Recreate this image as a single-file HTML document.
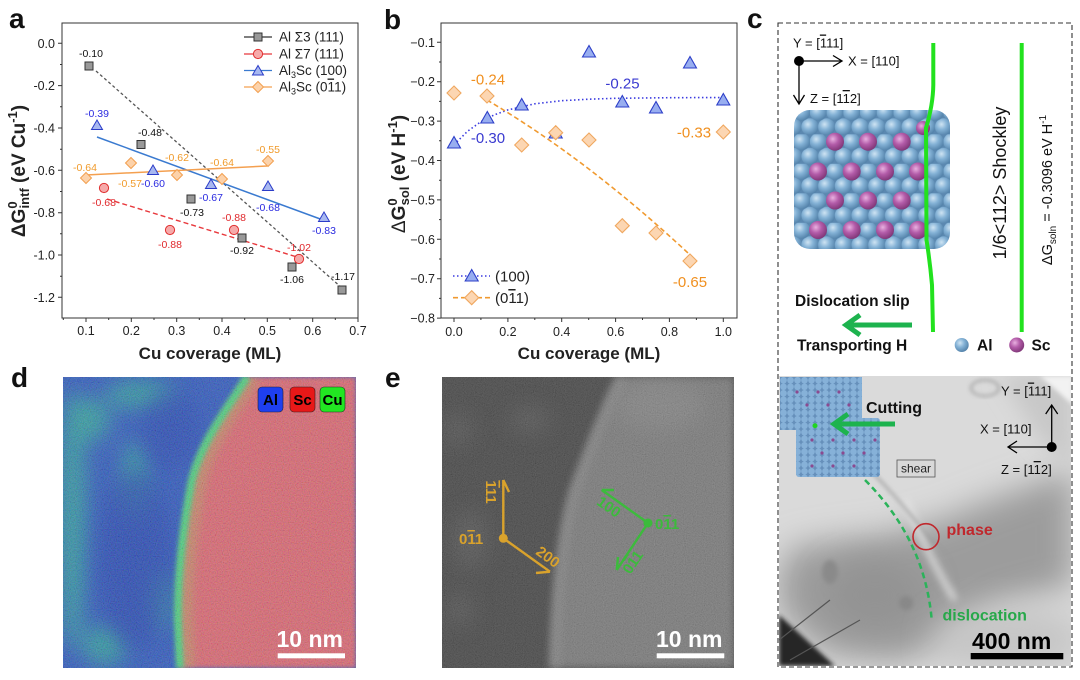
<!DOCTYPE html>
<html><head><meta charset="utf-8">
<style>
html,body{margin:0;padding:0;background:#fff;}
svg{display:block;}
text{font-family:"Liberation Sans",Arial,sans-serif;}
</style></head><body>
<svg width="1080" height="680" viewBox="0 0 1080 680" xmlns="http://www.w3.org/2000/svg">
<defs>
 <radialGradient id="gAl" cx="0.38" cy="0.35" r="0.7">
  <stop offset="0" stop-color="#cfe4f3"/>
  <stop offset="0.45" stop-color="#84b2d6"/>
  <stop offset="1" stop-color="#4f7ea6"/>
 </radialGradient>
 <radialGradient id="gSc" cx="0.38" cy="0.35" r="0.7">
  <stop offset="0" stop-color="#e9b0e0"/>
  <stop offset="0.45" stop-color="#b35ca9"/>
  <stop offset="1" stop-color="#7c3474"/>
 </radialGradient>
 <pattern id="pAtoms" x="826.65" y="134.3" width="16.7" height="29.5" patternUnits="userSpaceOnUse">
  <rect width="16.7" height="29.5" fill="#5b88b0"/>
  <circle cx="0" cy="22.1" r="8.6" fill="url(#gAl)"/>
  <circle cx="16.7" cy="22.1" r="8.6" fill="url(#gAl)"/>
  <circle cx="8.35" cy="7.4" r="8.6" fill="url(#gAl)"/>
 </pattern>
 <pattern id="pSmall" x="780" y="377" width="7" height="6.5" patternUnits="userSpaceOnUse">
  <rect width="7" height="6.5" fill="#6690bb"/>
  <circle cx="3.5" cy="3.25" r="3.3" fill="#86b1d8"/>
 </pattern>
 <clipPath id="clipCluster"><rect x="794" y="110" width="156" height="139" rx="16"/></clipPath>
 <clipPath id="clipD"><rect x="63" y="377" width="293" height="291"/></clipPath>
 <clipPath id="clipE"><rect x="442" y="377" width="292" height="291"/></clipPath>
 <clipPath id="clipT"><rect x="779" y="376" width="292" height="290"/></clipPath>
 <filter id="b2" x="-20%" y="-20%" width="140%" height="140%"><feGaussianBlur stdDeviation="2"/></filter>
 <filter id="b4" x="-20%" y="-20%" width="140%" height="140%"><feGaussianBlur stdDeviation="4"/></filter>
 <filter id="b10" x="-30%" y="-30%" width="160%" height="160%"><feGaussianBlur stdDeviation="10"/></filter>
 <filter id="b18" x="-40%" y="-40%" width="180%" height="180%"><feGaussianBlur stdDeviation="16"/></filter>
 <filter id="nCol" x="0" y="0" width="100%" height="100%">
  <feTurbulence type="fractalNoise" baseFrequency="0.85" numOctaves="1" seed="4"/>
  <feColorMatrix type="matrix" values="1.8 0 0 0 -0.4  0 1.8 0 0 -0.4  0 0 1.8 0 -0.4  0 0 0 0 1"/>
 </filter>
 <filter id="nGray" x="0" y="0" width="100%" height="100%">
  <feTurbulence type="fractalNoise" baseFrequency="0.9" numOctaves="1" seed="7"/>
  <feColorMatrix type="matrix" values="0.7 0.7 0 0 -0.2  0.7 0.7 0 0 -0.2  0.7 0.7 0 0 -0.2  0 0 0 0 1"/>
 </filter>
</defs>

<rect width="1080" height="680" fill="#fff"/>

<!-- ================= PANEL A ================= -->
<text x="9" y="28" font-size="28" font-weight="bold" fill="#111">a</text>
<rect x="62" y="23" width="296" height="295" fill="none" stroke="#333" stroke-width="1"/>
<path d="M58,43.3H62M58,85.6H62M58,128H62M58,170.3H62M58,212.7H62M58,255H62M58,297.3H62
 M60,64.5H62M60,106.8H62M60,149.2H62M60,191.5H62M60,233.8H62M60,276.2H62
 M86,318V322M131.3,318V322M176.7,318V322M222,318V322M267.3,318V322M312.7,318V322M358,318V322
 M63.3,318V320M108.7,318V320M154,318V320M199.3,318V320M244.7,318V320M290,318V320M335.3,318V320" stroke="#333" stroke-width="1" fill="none"/>
<g font-size="12.5" fill="#222" text-anchor="end">
 <text x="55" y="47.8">0.0</text>
 <text x="55" y="90.1">-0.2</text>
 <text x="55" y="132.5">-0.4</text>
 <text x="55" y="174.8">-0.6</text>
 <text x="55" y="217.2">-0.8</text>
 <text x="55" y="259.5">-1.0</text>
 <text x="55" y="301.8">-1.2</text>
</g>
<g font-size="12.5" fill="#222" text-anchor="middle">
 <text x="86" y="335">0.1</text>
 <text x="131.3" y="335">0.2</text>
 <text x="176.7" y="335">0.3</text>
 <text x="222" y="335">0.4</text>
 <text x="267.3" y="335">0.5</text>
 <text x="312.7" y="335">0.6</text>
 <text x="358" y="335">0.7</text>
</g>
<text x="210" y="359" font-size="17" font-weight="bold" fill="#222" text-anchor="middle">Cu coverage (ML)</text>
<text transform="translate(25,171) rotate(-90)" text-anchor="middle" font-size="19" font-weight="bold" fill="#222">ΔG<tspan font-size="13" dy="-8">0</tspan><tspan font-size="13" dx="-7" dy="12">intf</tspan><tspan dy="-4"> (eV Cu</tspan><tspan font-size="13" dy="-8">-1</tspan><tspan dy="8">)</tspan></text>

<path d="M96,71L342,288" stroke="#555" stroke-width="1.3" stroke-dasharray="3 2.5" fill="none"/>
<path d="M107,199L297,257" stroke="#e8383c" stroke-width="1.4" stroke-dasharray="5 3" fill="none"/>
<path d="M97,137L323,220" stroke="#3a7ad0" stroke-width="1.5" fill="none"/>
<path d="M86,175L267,166" stroke="#f4a050" stroke-width="1.5" fill="none"/>
<g fill="#999" stroke="#333" stroke-width="1">
 <rect x="85" y="62" width="8" height="8"/>
 <rect x="137" y="140.5" width="8" height="8"/>
 <rect x="187" y="195" width="8" height="8"/>
 <rect x="238" y="234" width="8" height="8"/>
 <rect x="288" y="263" width="8" height="8"/>
 <rect x="338" y="286" width="8" height="8"/>
</g>
<g fill="#f6aaaa" stroke="#e03030" stroke-width="1">
 <circle cx="104" cy="188" r="4.6"/>
 <circle cx="170" cy="230" r="4.6"/>
 <circle cx="234" cy="230" r="4.6"/>
 <circle cx="299" cy="259" r="4.6"/>
</g>
<g fill="#a8b8f0" stroke="#2b3cc8" stroke-width="1">
 <path d="M97,120L91.5,129.5H102.5Z"/>
 <path d="M153,165L147.5,174.5H158.5Z"/>
 <path d="M211,179L205.5,188.5H216.5Z"/>
 <path d="M268,181L262.5,190.5H273.5Z"/>
 <path d="M324,212L318.5,221.5H329.5Z"/>
</g>
<g fill="#fcd2aa" stroke="#f2a050" stroke-width="1">
 <path d="M86,172.5L91.5,178L86,183.5L80.5,178Z"/>
 <path d="M131,157.5L136.5,163L131,168.5L125.5,163Z"/>
 <path d="M177,169.5L182.5,175L177,180.5L171.5,175Z"/>
 <path d="M222,173.5L227.5,179L222,184.5L216.5,179Z"/>
 <path d="M268,155.5L273.5,161L268,166.5L262.5,161Z"/>
</g>
<g font-size="10.5" text-anchor="middle">
 <g fill="#111">
  <text x="91" y="57">-0.10</text>
  <text x="150" y="136">-0.48</text>
  <text x="192" y="216">-0.73</text>
  <text x="242" y="254">-0.92</text>
  <text x="292" y="283">-1.06</text>
  <text x="343" y="280">-1.17</text>
 </g>
 <g fill="#e0282c">
  <text x="104" y="206">-0.68</text>
  <text x="170" y="248">-0.88</text>
  <text x="234" y="221">-0.88</text>
  <text x="299" y="251">-1.02</text>
 </g>
 <g fill="#2a2ae0">
  <text x="97" y="117">-0.39</text>
  <text x="153" y="187">-0.60</text>
  <text x="211" y="201">-0.67</text>
  <text x="268" y="211">-0.68</text>
  <text x="324" y="234">-0.83</text>
 </g>
 <g fill="#f09a2a">
  <text x="85" y="171">-0.64</text>
  <text x="130" y="187">-0.57</text>
  <text x="177" y="161">-0.62</text>
  <text x="222" y="166">-0.64</text>
  <text x="268" y="153">-0.55</text>
 </g>
</g>
<g font-size="13.5" fill="#222">
 <path d="M244,37H272" stroke="#333" stroke-width="1.2"/>
 <rect x="254" y="33" width="8" height="8" fill="#999" stroke="#333"/>
 <text x="279" y="41.5">Al Σ3 (111)</text>
 <path d="M244,54H272" stroke="#e8383c" stroke-width="1.2"/>
 <circle cx="258" cy="54" r="4.6" fill="#f6aaaa" stroke="#e03030"/>
 <text x="279" y="58.5">Al Σ7 (111)</text>
 <path d="M244,70.5H272" stroke="#3a7ad0" stroke-width="1.2"/>
 <path d="M258,65.5L252.5,75H263.5Z" fill="#a8b8f0" stroke="#2b3cc8"/>
 <text x="279" y="75">Al<tspan font-size="9" dy="3">3</tspan><tspan dy="-3">Sc (100)</tspan></text>
 <path d="M244,87H272" stroke="#f4a050" stroke-width="1.2"/>
 <path d="M258,81.5L263.5,87L258,92.5L252.5,87Z" fill="#fcd2aa" stroke="#f2a050"/>
 <text x="279" y="91.5">Al<tspan font-size="9" dy="3">3</tspan><tspan dy="-3">Sc (0</tspan><tspan style="text-decoration:overline">1</tspan>1)</text>
</g>

<!-- ================= PANEL B ================= -->
<text x="384" y="29" font-size="28" font-weight="bold" fill="#111">b</text>
<rect x="441" y="23" width="296" height="295" fill="none" stroke="#333" stroke-width="1"/>
<path d="M437,42.3H441M437,81.7H441M437,121.1H441M437,160.5H441M437,199.9H441M437,239.3H441M437,278.7H441M437,318.1H441
 M439,62H441M439,101.4H441M439,140.8H441M439,180.2H441M439,219.6H441M439,259H441M439,298.4H441
 M454,318V322M507.9,318V322M561.7,318V322M615.6,318V322M669.4,318V322M723.3,318V322
 M480.9,318V320M534.8,318V320M588.7,318V320M642.5,318V320M696.4,318V320" stroke="#333" stroke-width="1" fill="none"/>
<g font-size="12.5" fill="#222" text-anchor="end">
 <text x="435" y="46.8">−0.1</text>
 <text x="435" y="86.2">−0.2</text>
 <text x="435" y="125.6">−0.3</text>
 <text x="435" y="165">−0.4</text>
 <text x="435" y="204.4">−0.5</text>
 <text x="435" y="243.8">−0.6</text>
 <text x="435" y="283.2">−0.7</text>
 <text x="435" y="322.6">−0.8</text>
</g>
<g font-size="12.5" fill="#222" text-anchor="middle">
 <text x="454" y="336">0.0</text>
 <text x="507.9" y="336">0.2</text>
 <text x="561.7" y="336">0.4</text>
 <text x="615.6" y="336">0.6</text>
 <text x="669.4" y="336">0.8</text>
 <text x="723.3" y="336">1.0</text>
</g>
<text x="589" y="359" font-size="17" font-weight="bold" fill="#222" text-anchor="middle">Cu coverage (ML)</text>
<text transform="translate(405,174) rotate(-90)" text-anchor="middle" font-size="19" font-weight="bold" fill="#222"><tspan font-weight="normal">Δ</tspan>G<tspan font-size="13" dy="-8">0</tspan><tspan font-size="13" dx="-7" dy="12">sol</tspan><tspan dy="-4"> (eV H</tspan><tspan font-size="13" dy="-8">-1</tspan><tspan dy="8">)</tspan></text>

<path d="M454,144.7 L467.5,131.3 L480.9,121.7 L494.4,114.8 L507.9,109.9 L534.8,103.8 L561.7,100.7 L588.7,99.2 L615.6,98.3 L669.4,97.7 L723.3,97.5" stroke="#3c3ce0" stroke-width="1.6" stroke-dasharray="1.5 2.5" fill="none"/>
<path d="M487,100 Q587.5,159.5 688,253" stroke="#f09a30" stroke-width="1.6" stroke-dasharray="5 3" fill="none"/>
<g fill="#98aef0" stroke="#2d3fc8" stroke-width="1.1">
 <path d="M454,136.5L447.5,148H460.5Z"/>
 <path d="M487.3,111.5L480.8,123H493.8Z"/>
 <path d="M521.7,98.5L515.2,110H528.2Z"/>
 <path d="M555.7,126.5L549.2,138H562.2Z"/>
 <path d="M589,45.5L582.5,57H595.5Z"/>
 <path d="M622.3,95.5L615.8,107H628.8Z"/>
 <path d="M656,101.5L649.5,113H662.5Z"/>
 <path d="M690,56.5L683.5,68H696.5Z"/>
 <path d="M723.3,93.5L716.8,105H729.8Z"/>
</g>
<g fill="#fcd6b2" stroke="#f0a860" stroke-width="1.1">
 <path d="M454,86L461,93L454,100L447,93Z"/>
 <path d="M487,89L494,96L487,103L480,96Z"/>
 <path d="M521.7,138L528.7,145L521.7,152L514.7,145Z"/>
 <path d="M555.7,125.7L562.7,132.7L555.7,139.7L548.7,132.7Z"/>
 <path d="M589,133L596,140L589,147L582,140Z"/>
 <path d="M622.3,218.7L629.3,225.7L622.3,232.7L615.3,225.7Z"/>
 <path d="M656,226L663,233L656,240L649,233Z"/>
 <path d="M690,254L697,261L690,268L683,261Z"/>
 <path d="M723.3,125L730.3,132L723.3,139L716.3,132Z"/>
</g>
<g font-size="15" text-anchor="middle">
 <text x="488" y="143" fill="#3a3ad0">-0.30</text>
 <text x="622.5" y="88.7" fill="#3a3ad0">-0.25</text>
 <text x="488" y="84.4" fill="#f09020">-0.24</text>
 <text x="694" y="137.7" fill="#f09020">-0.33</text>
 <text x="690" y="287" fill="#f09020">-0.65</text>
</g>
<path d="M453,276H490" stroke="#3c3ce0" stroke-width="1.6" stroke-dasharray="1.5 2.5"/>
<path d="M471.7,269.5L465.2,281H478.2Z" fill="#98aef0" stroke="#2d3fc8" stroke-width="1.1"/>
<text x="495" y="281.5" font-size="15" fill="#222">(100)</text>
<path d="M453,297.7H490" stroke="#f09a30" stroke-width="1.6" stroke-dasharray="5 3"/>
<path d="M471.7,290.7L478.7,297.7L471.7,304.7L464.7,297.7Z" fill="#fcd6b2" stroke="#f0a860" stroke-width="1.1"/>
<text x="495" y="303" font-size="15" fill="#222">(0<tspan style="text-decoration:overline">1</tspan>1)</text>

<!-- ================= PANEL C ================= -->
<text x="747" y="28" font-size="28" font-weight="bold" fill="#111">c</text>

<g clip-path="url(#clipT)">
 <rect x="779" y="376" width="292" height="290" fill="#dadada"/>
 <path d="M1073,470L1073,585L1000,605L950,640L900,662L830,655L790,625L775,590L790,548L835,540L885,534L935,522L985,502L1035,484Z" fill="#9c9c9c" filter="url(#b18)"/>
 <ellipse cx="875" cy="595" rx="50" ry="35" fill="#939393" filter="url(#b18)"/>
 <ellipse cx="1010" cy="640" rx="75" ry="35" fill="#c6c6c6" filter="url(#b18)"/>
 <path d="M1000,376L1073,376L1073,470L1040,440Z" fill="#c8c8c8" filter="url(#b10)"/>
 <path d="M1040,376H1073V405Z" fill="#f2f2f2" filter="url(#b2)"/>
 <path d="M905,500 Q930,560 955,600" stroke="#e6e6e6" stroke-width="5" fill="none" filter="url(#b4)"/>
 <path d="M779,615L835,666H779Z" fill="#262626" filter="url(#b2)"/>
 <path d="M779,640L830,600M790,660L860,620" stroke="#555" stroke-width="1.2"/>
 <ellipse cx="985" cy="388" rx="14" ry="8" fill="none" stroke="#777" stroke-width="1.2" filter="url(#b2)"/>
 <ellipse cx="830" cy="572" rx="8" ry="12" fill="#8a8a8a" filter="url(#b2)"/>
 <ellipse cx="906" cy="603" rx="7" ry="7" fill="#888" filter="url(#b2)"/>
 <path d="M870,470 Q900,500 935,545" stroke="#999" stroke-width="2" fill="none" filter="url(#b2)"/>
 <rect x="780" y="377" width="82" height="53" fill="url(#pSmall)"/>
 <rect x="796" y="418" width="84" height="59" rx="3" fill="url(#pSmall)"/>
 <g fill="#8a4a90">
  <circle cx="797" cy="392" r="1.6"/><circle cx="818" cy="392" r="1.6"/><circle cx="839" cy="392" r="1.6"/>
  <circle cx="807" cy="405" r="1.6"/><circle cx="828" cy="405" r="1.6"/><circle cx="849" cy="405" r="1.6"/>
  <circle cx="812" cy="440" r="1.6"/><circle cx="833" cy="440" r="1.6"/><circle cx="854" cy="440" r="1.6"/><circle cx="875" cy="440" r="1.6"/>
  <circle cx="822" cy="453" r="1.6"/><circle cx="843" cy="453" r="1.6"/><circle cx="864" cy="453" r="1.6"/>
  <circle cx="812" cy="466" r="1.6"/><circle cx="833" cy="466" r="1.6"/><circle cx="854" cy="466" r="1.6"/>
 </g>
 <circle cx="815" cy="425.7" r="2.5" fill="#22d422"/>
</g>
<text x="866" y="413" font-size="16" font-weight="bold" fill="#111">Cutting</text>
<path d="M895,424H838" stroke="#1db34e" stroke-width="5"/>
<path d="M848,414L834,424L848,434" stroke="#1db34e" stroke-width="5" fill="none"/>
<rect x="897" y="460" width="38" height="17" fill="#d8d8d8" stroke="#555" stroke-width="0.8"/>
<text x="916" y="472.5" font-size="12" fill="#222" text-anchor="middle">shear</text>
<circle cx="1051.7" cy="447" r="5" fill="#000"/>
<path d="M1051.7,447V406M1045.7,414L1051.7,405L1057.7,414M1051.7,447H1009M1017,441L1008,447L1017,453" stroke="#000" stroke-width="1.3" fill="none"/>
<g font-size="13" fill="#111">
 <text x="1001" y="395.5">Y = [<tspan style="text-decoration:overline">1</tspan>11]</text>
 <text x="980" y="433.5">X = [110]</text>
 <text x="1001" y="474">Z = [1<tspan style="text-decoration:overline">1</tspan>2]</text>
</g>
<circle cx="926" cy="536.7" r="13" fill="none" stroke="#c0282d" stroke-width="1.6"/>
<text x="946.5" y="535" font-size="16" font-weight="bold" fill="#c0282d">phase</text>
<path d="M865,480 Q925,540 931.7,620" stroke="#2bb35a" stroke-width="2.5" stroke-dasharray="6 4" fill="none"/>
<text x="942.5" y="620.5" font-size="16" font-weight="bold" fill="#27a84a">dislocation</text>
<text x="972" y="649" font-size="23" font-weight="bold" fill="#000">400 nm</text>
<rect x="970.7" y="653" width="92.6" height="6.3" fill="#000"/>

<g font-size="13" fill="#111">
 <text x="793" y="47.5">Y = [<tspan style="text-decoration:overline">1</tspan>11]</text>
 <text x="848" y="65.5">X = [110]</text>
 <text x="810" y="103">Z = [1<tspan style="text-decoration:overline">1</tspan>2]</text>
</g>
<circle cx="799" cy="61" r="5" fill="#000"/>
<path d="M799,61H841M833,55.5L842,61L833,66.5M799,61V103M793.5,95L799,104L804.5,95" stroke="#000" stroke-width="1.3" fill="none"/>

<g clip-path="url(#clipCluster)">
 <rect x="790" y="105" width="165" height="150" fill="url(#pAtoms)"/>
</g>
<g fill="url(#gSc)">
 <circle cx="835" cy="141.7" r="9"/><circle cx="868" cy="141.7" r="9"/><circle cx="901.7" cy="141.7" r="9"/>
 <circle cx="818" cy="171.5" r="9"/><circle cx="851.7" cy="171.5" r="9"/><circle cx="885" cy="171.5" r="9"/><circle cx="918" cy="171.5" r="9"/>
 <circle cx="835" cy="200.5" r="9"/><circle cx="868" cy="200.5" r="9"/><circle cx="901.7" cy="200.5" r="9"/>
 <circle cx="818" cy="230" r="9"/><circle cx="851.7" cy="230" r="9"/><circle cx="885" cy="230" r="9"/><circle cx="918" cy="230" r="9"/>
 <circle cx="923" cy="128" r="7"/>
</g>
<path d="M933.3,43 L933.3,85 Q933,105 926,128 L926.5,240 Q930,262 932,285 L933,332" stroke="#22e21e" stroke-width="4" fill="none"/>
<path d="M1021.7,43V332" stroke="#22e21e" stroke-width="4"/>
<text transform="translate(1006,183) rotate(-90)" text-anchor="middle" font-size="18" fill="#111">1/6&lt;112&gt; Shockley</text>
<text transform="translate(1052,190) rotate(-90)" text-anchor="middle" font-size="14.5" fill="#111">ΔG<tspan font-size="10" dy="4">soln</tspan><tspan dy="-4"> = -0.3096 eV H</tspan><tspan font-size="10" dy="-6">-1</tspan></text>
<text x="795" y="306" font-size="15.5" font-weight="bold" fill="#111">Dislocation slip</text>
<path d="M912,325H850" stroke="#1db34e" stroke-width="5"/>
<path d="M860,315L846,325L860,335" stroke="#1db34e" stroke-width="5" fill="none"/>
<text x="797" y="350.5" font-size="15.5" font-weight="bold" fill="#111">Transporting H</text>
<circle cx="961.7" cy="345" r="7" fill="url(#gAl)"/>
<text x="977" y="350.5" font-size="15.5" font-weight="bold" fill="#111">Al</text>
<circle cx="1016.7" cy="345" r="7.5" fill="url(#gSc)"/>
<text x="1031.5" y="350.5" font-size="15.5" font-weight="bold" fill="#111">Sc</text>

<rect x="778" y="23" width="294" height="644" fill="none" stroke="#333" stroke-width="1.1" stroke-dasharray="5 3"/>

<!-- ================= PANEL D ================= -->
<text x="11" y="387" font-size="28" font-weight="bold" fill="#111">d</text>
<g clip-path="url(#clipD)">
 <rect x="63" y="377" width="293" height="291" fill="#2c56bc"/>
 <g fill="#2ea898" opacity="0.8" filter="url(#b10)">
  <ellipse cx="72" cy="520" rx="14" ry="130"/>
  <ellipse cx="88" cy="420" rx="22" ry="22"/>
  <ellipse cx="140" cy="395" rx="35" ry="14"/>
  <ellipse cx="105" cy="645" rx="22" ry="20"/>
  <ellipse cx="135" cy="480" rx="12" ry="40"/>
  <ellipse cx="160" cy="600" rx="10" ry="30"/>
 </g>
 <ellipse cx="135" cy="560" rx="38" ry="90" fill="#2242b0" opacity="0.7" filter="url(#b10)"/>
 <ellipse cx="170" cy="430" rx="30" ry="40" fill="#2242b0" opacity="0.6" filter="url(#b10)"/>
 <path d="M247,377 C230,405 202,440 192,480 C183,527 178,570 178,620 L180,668 L356,668 L356,377 Z" fill="#d8646e" filter="url(#b2)"/>
 <path d="M254,377 C238,405 210,440 200,480 C191,527 186,570 186,620 L188,668" stroke="#b0a060" stroke-width="14" fill="none" opacity="0.5" filter="url(#b4)"/>
 <path d="M247,377 C230,405 202,440 192,480 C183,527 178,570 178,620 L180,668" stroke="#44d47a" stroke-width="8" fill="none" opacity="0.95" filter="url(#b2)"/>
 <rect x="63" y="377" width="293" height="291" filter="url(#nCol)" opacity="0.2"/>
</g>
<g font-size="15" font-weight="bold" fill="#000" text-anchor="middle">
 <rect x="258" y="387" width="25" height="25" rx="4" fill="#1e3ff0" stroke="#223" stroke-width="0.6"/>
 <text x="270.5" y="405">Al</text>
 <rect x="290" y="387" width="25" height="25" rx="4" fill="#e81818" stroke="#322" stroke-width="0.6"/>
 <text x="302.5" y="405">Sc</text>
 <rect x="320" y="387" width="25" height="25" rx="4" fill="#22e622" stroke="#232" stroke-width="0.6"/>
 <text x="332.5" y="405">Cu</text>
</g>
<text x="276.5" y="647" font-size="23" font-weight="bold" fill="#fff">10 nm</text>
<rect x="277.7" y="653.3" width="67.3" height="5" fill="#fff"/>

<!-- ================= PANEL E ================= -->
<text x="385" y="387" font-size="28" font-weight="bold" fill="#111">e</text>
<g clip-path="url(#clipE)">
 <rect x="442" y="377" width="292" height="291" fill="#3c3c3c"/>
 <g fill="#555" opacity="0.6" filter="url(#b10)">
  <ellipse cx="458" cy="430" rx="14" ry="16"/>
  <ellipse cx="470" cy="540" rx="18" ry="30"/>
  <ellipse cx="460" cy="610" rx="14" ry="16"/>
  <ellipse cx="530" cy="420" rx="20" ry="14"/>
 </g>
 <path d="M617,377 C600,410 585,450 570,490 C560,525 552,580 550,668 L734,668 L734,377 Z" fill="#737373" filter="url(#b4)"/>
 <path d="M622,377 C605,410 590,450 575,490 C565,525 557,580 555,668" stroke="#858585" stroke-width="10" fill="none" opacity="0.6" filter="url(#b4)"/>
 <ellipse cx="660" cy="405" rx="45" ry="25" fill="#838383" opacity="0.6" filter="url(#b10)"/>
 <rect x="442" y="377" width="292" height="291" filter="url(#nGray)" opacity="0.22"/>
</g>
<g stroke="#d9a22c" stroke-width="2.4" fill="none">
 <path d="M503.3,538.3V480M503.3,480L509,492"/>
 <path d="M503.3,538.3L550,571.7M550,571.7L536,573"/>
</g>
<circle cx="503.3" cy="538.3" r="4.5" fill="#d9a22c"/>
<text transform="translate(486,492) rotate(90)" text-anchor="middle" font-size="15" font-weight="bold" fill="#d9a22c"><tspan style="text-decoration:overline">1</tspan>11</text>
<text x="459" y="544" font-size="15" font-weight="bold" fill="#d9a22c">0<tspan style="text-decoration:overline">1</tspan>1</text>
<text transform="translate(545,561) rotate(36)" text-anchor="middle" font-size="15" font-weight="bold" fill="#d9a22c">200</text>
<g stroke="#3cbb3c" stroke-width="2.4" fill="none">
 <path d="M648,523L601.7,490M601.7,490L614,490"/>
 <path d="M648,523L616.7,570M616.7,570L618,557"/>
</g>
<circle cx="648" cy="523" r="4.5" fill="#3cbb3c"/>
<text transform="translate(606,511) rotate(35)" text-anchor="middle" font-size="15" font-weight="bold" fill="#3cbb3c">100</text>
<text transform="translate(637,565) rotate(-56)" text-anchor="middle" font-size="15" font-weight="bold" fill="#3cbb3c">0<tspan style="text-decoration:overline">1</tspan>1</text>
<text x="655" y="529" font-size="15" font-weight="bold" fill="#3cbb3c">0<tspan style="text-decoration:overline">1</tspan>1</text>
<text x="656" y="647" font-size="23" font-weight="bold" fill="#fff">10 nm</text>
<rect x="656.7" y="653.3" width="67.6" height="5" fill="#fff"/>
</svg>
</body></html>
